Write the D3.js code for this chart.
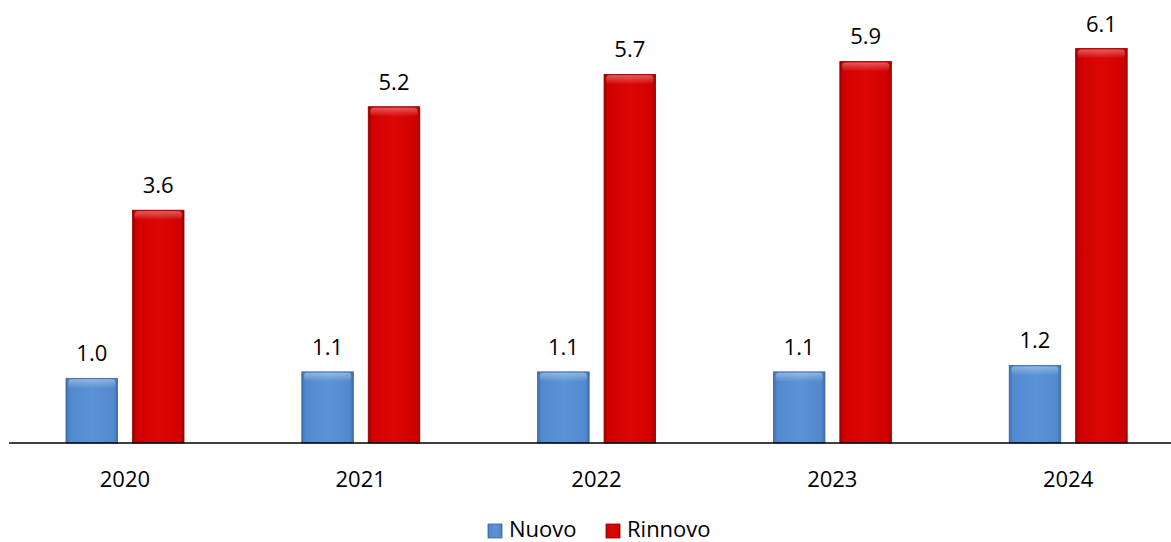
<!DOCTYPE html>
<html>
<head>
<meta charset="utf-8">
<script src="https://cdn.jsdelivr.net/npm/d3@7"></script>
<style>
  html, body { margin: 0; padding: 0; background: #fff; }
  svg { display: block; font-family: "Open Sans", "Liberation Sans", sans-serif; }
</style>
</head>
<body>
<svg id="chart" width="1171" height="542"></svg>
<script>
// Dati
const years = ["2020", "2021", "2022", "2023", "2024"];
const nuovo = [1.0, 1.1, 1.1, 1.1, 1.2];
const rinnovo = [3.6, 5.2, 5.7, 5.9, 6.1];
const seriesNames = ["Nuovo", "Rinnovo"];

const width = 1171, height = 542;
const baseY = 443;
const svg = d3.select("#chart");
const defs = svg.append("defs");

// Bar shading: dark sides, bright centre, plus a soft highlight near the top
function makeGradients(id, dark, mid, light) {
  const h = defs.append("linearGradient").attr("id", id + "-h")
    .attr("x1", 0).attr("x2", 1).attr("y1", 0).attr("y2", 0);
  [[0, dark], [0.07, mid], [0.5, light], [0.93, mid], [1, dark]].forEach(([o, c]) =>
    h.append("stop").attr("offset", o).attr("stop-color", c));
  return id + "-h";
}
makeGradients("blue", "#3f6ea8", "#5189cc", "#5a93d6");
makeGradients("red", "#9e0000", "#d00000", "#dc0606");

const topHi = defs.append("linearGradient").attr("id", "tophi")
  .attr("x1", 0).attr("x2", 0).attr("y1", 0).attr("y2", 1);
topHi.append("stop").attr("offset", 0).attr("stop-color", "#fff").attr("stop-opacity", 0.35);
topHi.append("stop").attr("offset", 1).attr("stop-color", "#fff").attr("stop-opacity", 0);

const x = d3.scaleBand().domain(years).range([7, 1186]).paddingInner(0).paddingOuter(0);
// Pair of bars inside each year band
const xs = d3.scaleBand().domain(seriesNames).range([59, 177]).paddingInner(0.224).paddingOuter(0);
const y = d3.scaleLinear().domain([0, 6.1]).range([baseY, 48.5]);

const fills = { Nuovo: "url(#blue-h)", Rinnovo: "url(#red-h)" };
const strokes = { Nuovo: "#3a659a", Rinnovo: "#8a0000" };

const data = [];
years.forEach((yr, i) => {
  data.push({ year: yr, s: "Nuovo", v: nuovo[i] });
  data.push({ year: yr, s: "Rinnovo", v: rinnovo[i] });
});

const g = svg.append("g");
const bars = g.selectAll("g.bar").data(data).join("g").attr("class", "bar")
  .attr("transform", d => `translate(${x(d.year) + xs(d.s)},0)`);

bars.append("rect")
  .attr("x", 0).attr("y", d => y(d.v))
  .attr("width", xs.bandwidth()).attr("height", d => baseY - y(d.v))
  .attr("fill", d => fills[d.s])
  .attr("stroke", d => strokes[d.s]).attr("stroke-width", 0.8);

bars.append("rect")
  .attr("x", 2).attr("y", d => y(d.v) + 1)
  .attr("width", xs.bandwidth() - 4).attr("height", 9)
  .attr("rx", 4)
  .attr("fill", "url(#tophi)");

// Value labels
bars.append("text")
  .attr("x", xs.bandwidth() / 2).attr("y", d => y(d.v) - 17)
  .attr("text-anchor", "middle")
  .attr("font-size", 22).attr("fill", "#000")
  .text(d => d.v.toFixed(1));

// Baseline
svg.append("line")
  .attr("x1", 9).attr("x2", width).attr("y1", baseY).attr("y2", baseY)
  .attr("stroke", "#000").attr("stroke-width", 1.6);

// Category labels
svg.append("g").selectAll("text").data(years).join("text")
  .attr("x", d => x(d) + x.bandwidth() / 2).attr("y", 487)
  .attr("text-anchor", "middle").attr("font-size", 22).attr("fill", "#000")
  .text(d => d);

// Legend
const legend = svg.append("g");
const legendItems = [
  { name: "Nuovo", x: 488, fill: "url(#blue-h)", stroke: "#3a659a" },
  { name: "Rinnovo", x: 606, fill: "url(#red-h)", stroke: "#8a0000" }
];
legendItems.forEach(it => {
  legend.append("rect").attr("x", it.x).attr("y", 524).attr("width", 14).attr("height", 14)
    .attr("fill", it.fill).attr("stroke", it.stroke).attr("stroke-width", 0.8);
  legend.append("text").attr("x", it.x + 21).attr("y", 537)
    .attr("font-size", 22).attr("fill", "#000").text(it.name);
});
</script>
</body>
</html>
